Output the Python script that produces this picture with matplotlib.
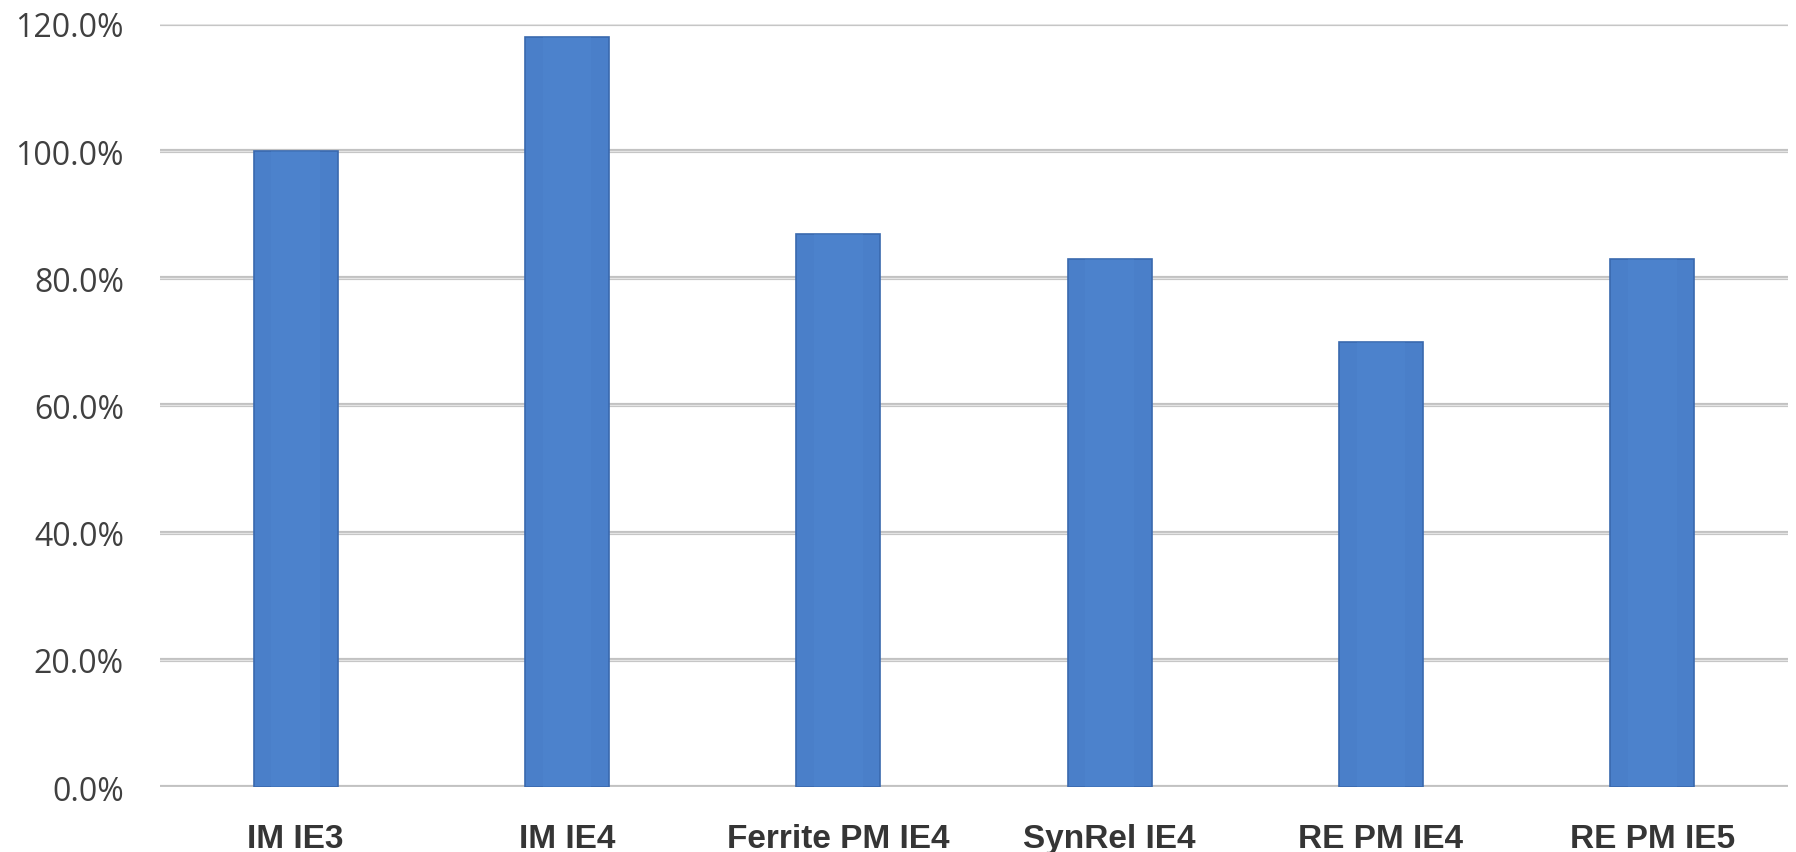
import numpy as np
import matplotlib
matplotlib.use("Agg")
import matplotlib.pyplot as plt
from matplotlib.ticker import FuncFormatter

# data
categories = ["IM IE3", "IM IE4", "Ferrite PM IE4", "SynRel IE4", "RE PM IE4", "RE PM IE5"]
values = [1.00, 1.18, 0.87, 0.83, 0.70, 0.83]
y_ticks = [0.0, 0.2, 0.4, 0.6, 0.8, 1.0, 1.2]

bar_color = "#4A7FC9"
edge_color = "#3A69AE"
grid_color = "#C2C2C2"
text_color = "#404040"

fig = plt.figure(figsize=(17.96, 8.53), dpi=100)
ax = fig.add_axes([0.0891, 0.0762, 0.9064, 0.8945])

x = np.arange(len(categories))

# horizontal gridlines with a soft highlight
for t in y_ticks:
    ax.axhline(t, color=grid_color, lw=3.0, zorder=1, solid_capstyle="round")
    ax.axhline(t, color="#E4E4E4", lw=0.9, zorder=1)

ax.bar(x, values, width=0.31, color=bar_color, edgecolor=edge_color,
       linewidth=1.2, zorder=2)
# lighter core to give the bars a little depth
ax.bar(x, values, width=0.18, color="#5089D2", alpha=0.35, linewidth=0, zorder=3)

ax.set_xlim(-0.5, len(categories) - 0.5)
ax.set_ylim(0, 1.2)
ax.set_yticks(y_ticks)
ax.yaxis.set_major_formatter(FuncFormatter(lambda v, _: f"{v * 100:.1f}%"))
ax.set_xticks(x)
ax.set_xticklabels(categories)

for s in ax.spines.values():
    s.set_visible(False)

ax.tick_params(axis="y", length=0, pad=26, labelsize=23, labelcolor=text_color)
ax.tick_params(axis="x", length=0, pad=26, labelsize=24, labelcolor="#353535")
for lab in ax.get_yticklabels():
    lab.set_family(["Open Sans", "DejaVu Sans"])
for lab in ax.get_xticklabels():
    lab.set_family(["Liberation Sans Narrow", "Liberation Sans", "DejaVu Sans"])
    lab.set_fontweight("bold")

fig.savefig("out.png", dpi=100, facecolor="white")
